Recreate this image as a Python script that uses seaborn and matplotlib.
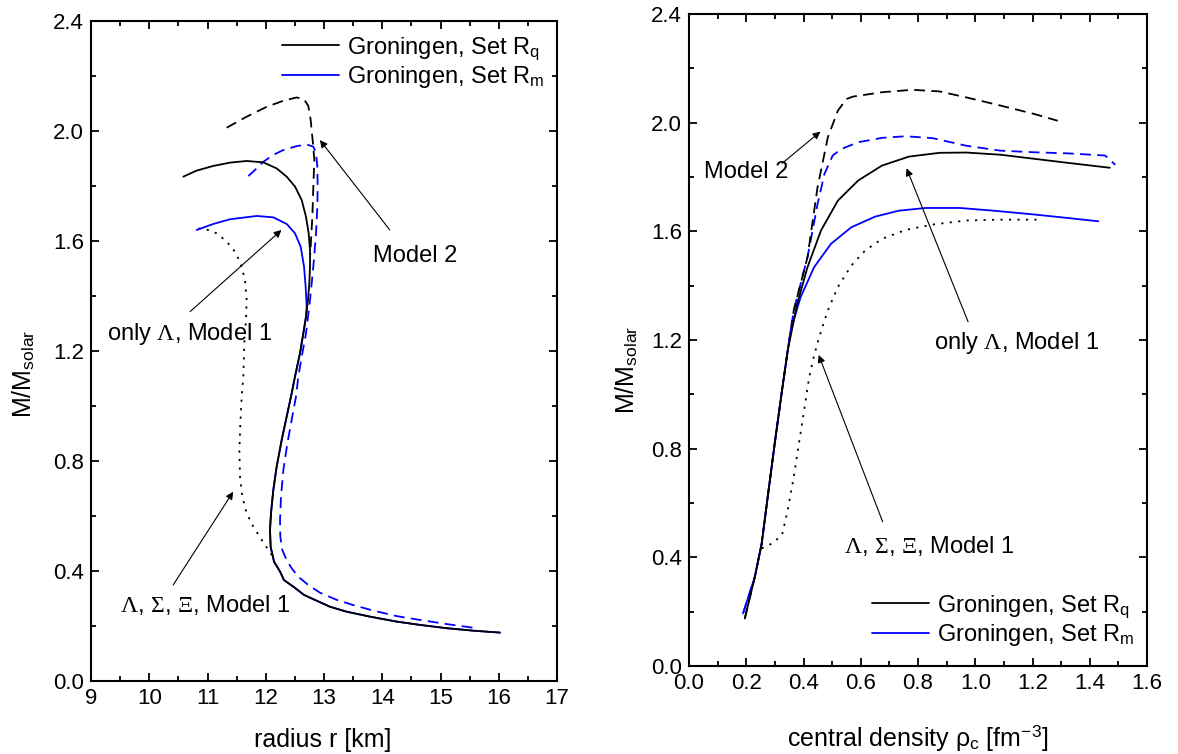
import numpy as np
import pandas as pd
import matplotlib
matplotlib.use("Agg")
import matplotlib.pyplot as plt
from matplotlib.lines import Line2D
from matplotlib.ticker import MultipleLocator
import seaborn as sns

# ---------------- data ----------------
# Left panel: mass vs radius
rq_r = [10.585, 10.814, 11.100, 11.386, 11.672, 11.958, 12.187, 12.359, 12.502, 12.617, 12.691,
        12.737, 12.760, 12.760, 12.748, 12.725, 12.691, 12.645, 12.588, 12.502, 12.445, 12.359,
        12.273, 12.187, 12.130, 12.090, 12.073, 12.084, 12.142, 12.245, 12.313, 12.474, 12.657,
        12.874, 13.103, 13.389, 13.790, 14.248, 14.648, 15.106, 15.564, 16.021]
rq_M = [1.834, 1.856, 1.873, 1.885, 1.891, 1.886, 1.864, 1.834, 1.798, 1.749, 1.688,
        1.628, 1.567, 1.507, 1.446, 1.385, 1.325, 1.264, 1.192, 1.107, 1.046, 0.961,
        0.876, 0.779, 0.695, 0.610, 0.549, 0.488, 0.434, 0.398, 0.367, 0.343, 0.313,
        0.292, 0.270, 0.252, 0.234, 0.216, 0.204, 0.192, 0.183, 0.176]

rm_r = [10.814, 11.100, 11.386, 11.844, 12.130, 12.359, 12.502, 12.600, 12.657, 12.685, 12.703,
        12.691, 12.645, 12.588, 12.502, 12.445, 12.359, 12.273, 12.187, 12.130, 12.090, 12.073,
        12.084, 12.142, 12.245, 12.313, 12.474, 12.657, 12.874, 13.103, 13.389, 13.790, 14.248,
        14.648, 15.106, 15.564, 16.021]
rm_M = [1.640, 1.662, 1.679, 1.691, 1.686, 1.662, 1.628, 1.579, 1.507, 1.434, 1.361,
        1.325, 1.264, 1.192, 1.107, 1.046, 0.961, 0.876, 0.779, 0.695, 0.610, 0.549,
        0.488, 0.434, 0.398, 0.367, 0.343, 0.313, 0.292, 0.270, 0.252, 0.234, 0.216,
        0.204, 0.192, 0.183, 0.176]

rq2_r = [11.329, 11.672, 12.016, 12.302, 12.531, 12.657, 12.731, 12.771, 12.805, 12.834, 12.817,
         12.800, 12.777, 12.765]
rq2_M = [2.012, 2.052, 2.088, 2.110, 2.122, 2.115, 2.091, 2.040, 1.967, 1.895, 1.798,
         1.688, 1.604, 1.550]

rm2_r = [11.701, 11.844, 11.958, 12.130, 12.302, 12.531, 12.703, 12.817, 12.863, 12.886, 12.891,
         12.886, 12.863, 12.817, 12.760, 12.691, 12.617, 12.559, 12.519, 12.445, 12.371, 12.302,
         12.262, 12.245, 12.250, 12.285, 12.359, 12.445, 12.559, 12.731, 12.931, 13.218, 13.504,
         13.847, 14.248, 14.648, 15.106, 15.621]
rm2_M = [1.836, 1.864, 1.888, 1.913, 1.931, 1.945, 1.951, 1.943, 1.919, 1.870, 1.798,
         1.725, 1.628, 1.507, 1.385, 1.264, 1.179, 1.107, 1.034, 0.949, 0.864, 0.767,
         0.670, 0.585, 0.525, 0.476, 0.440, 0.410, 0.379, 0.349, 0.321, 0.295, 0.276,
         0.256, 0.236, 0.222, 0.207, 0.192]

hyp_r = [10.843, 11.014, 11.157, 11.329, 11.472, 11.569, 11.644, 11.672, 11.661, 11.632, 11.615,
         11.587, 11.564, 11.547, 11.558, 11.598, 11.672, 11.787, 11.930, 12.102]
hyp_M = [1.646, 1.640, 1.628, 1.598, 1.561, 1.519, 1.458, 1.385, 1.313, 1.228, 1.107,
         1.034, 0.937, 0.840, 0.743, 0.670, 0.610, 0.561, 0.513, 0.458]

# Right panel: mass vs central density
rq_rho = [0.195, 0.230, 0.254, 0.278, 0.301, 0.325, 0.345, 0.378, 0.414, 0.461, 0.520, 0.591,
          0.674, 0.768, 0.875, 0.969, 1.088, 1.206, 1.324, 1.470]
rq_Mc = [0.175, 0.328, 0.451, 0.647, 0.831, 1.015, 1.162, 1.333, 1.468, 1.603, 1.713, 1.787,
         1.842, 1.875, 1.889, 1.890, 1.882, 1.867, 1.852, 1.834]

rm_rho = [0.189, 0.230, 0.254, 0.278, 0.301, 0.325, 0.355, 0.390, 0.437, 0.496, 0.567, 0.650,
          0.733, 0.827, 0.946, 1.064, 1.206, 1.324, 1.430]
rm_Mc = [0.194, 0.328, 0.451, 0.647, 0.831, 1.015, 1.235, 1.358, 1.468, 1.554, 1.615, 1.654,
         1.676, 1.686, 1.686, 1.676, 1.662, 1.649, 1.637]

rq2_rho = [0.195, 0.230, 0.254, 0.278, 0.301, 0.325, 0.345, 0.366, 0.414, 0.449, 0.485, 0.520,
           0.550, 0.573, 0.674, 0.780, 0.875, 0.969, 1.088, 1.206, 1.288]
rq2_Mc = [0.175, 0.328, 0.451, 0.647, 0.831, 1.015, 1.162, 1.309, 1.505, 1.762, 1.946, 2.044,
          2.087, 2.096, 2.112, 2.121, 2.115, 2.093, 2.063, 2.032, 2.007]

rm2_rho = [0.189, 0.230, 0.254, 0.278, 0.301, 0.325, 0.345, 0.366, 0.414, 0.449, 0.473, 0.502,
           0.532, 0.591, 0.674, 0.756, 0.851, 0.969, 1.088, 1.206, 1.324, 1.454, 1.489]
rm2_Mc = [0.194, 0.328, 0.451, 0.647, 0.831, 1.015, 1.162, 1.309, 1.505, 1.700, 1.811, 1.879,
          1.903, 1.928, 1.944, 1.950, 1.943, 1.915, 1.897, 1.891, 1.887, 1.879, 1.845]

hyp_rho = [0.254, 0.290, 0.325, 0.345, 0.366, 0.384, 0.402, 0.420, 0.437, 0.455, 0.485, 0.520,
           0.567, 0.615, 0.674, 0.756, 0.851, 0.969, 1.088, 1.223]
hyp_Mc = [0.433, 0.451, 0.482, 0.574, 0.696, 0.819, 0.941, 1.064, 1.143, 1.211, 1.309, 1.395,
          1.474, 1.529, 1.572, 1.605, 1.625, 1.640, 1.643, 1.643]

legend_labels = [r"Groningen, Set R$_\mathregular{q}$", r"Groningen, Set R$_\mathregular{m}$"]
x_ticks_left = [9, 10, 11, 12, 13, 14, 15, 16, 17]
x_ticks_right = [0.0, 0.2, 0.4, 0.6, 0.8, 1.0, 1.2, 1.4, 1.6]
y_ticks = [0.0, 0.4, 0.8, 1.2, 1.6, 2.0, 2.4]

# ---------------- style ----------------
sns.set_theme(style="ticks")
plt.rcParams["font.family"] = ["Liberation Sans", "DejaVu Sans"]
plt.rcParams["mathtext.fontset"] = "custom"
plt.rcParams["mathtext.rm"] = "Liberation Serif"
plt.rcParams["mathtext.it"] = "Liberation Serif:italic"
plt.rcParams["mathtext.bf"] = "Liberation Serif:bold"
plt.rcParams["mathtext.sf"] = "Liberation Sans"
plt.rcParams["text.color"] = "black"
plt.rcParams["axes.labelcolor"] = "black"
plt.rcParams["xtick.color"] = "black"
plt.rcParams["ytick.color"] = "black"
plt.rcParams["axes.linewidth"] = 1.5

BLUE = "#0000ff"
DASH = (0, (6, 3.5))
DOT = (0, (1.2, 3.5))
LW = 1.3
FS_TICK = 16
FS_LAB = 18
FS_TXT = 17

fig = plt.figure(figsize=(11.78, 7.54), dpi=100)
axL = fig.add_axes([91 / 1178, 1 - 681 / 754, 466 / 1178, 660 / 754])
axR = fig.add_axes([689 / 1178, 1 - 666 / 754, 458 / 1178, 652 / 754])


def draw(ax, x, y, color, ls):
    df = pd.DataFrame({"x": x, "y": y})
    sns.lineplot(data=df, x="x", y="y", sort=False, estimator=None, ax=ax,
                 color=color, linestyle=ls, linewidth=LW)


# left panel
draw(axL, rq2_r, rq2_M, "black", DASH)
draw(axL, rm2_r, rm2_M, BLUE, DASH)
draw(axL, hyp_r, hyp_M, "black", DOT)
draw(axL, rm_r, rm_M, BLUE, "-")
draw(axL, rq_r, rq_M, "black", "-")

# right panel
draw(axR, rm2_rho, rm2_Mc, BLUE, DASH)
draw(axR, rq2_rho, rq2_Mc, "black", DASH)
draw(axR, hyp_rho, hyp_Mc, "black", DOT)
draw(axR, rm_rho, rm_Mc, BLUE, "-")
draw(axR, rq_rho, rq_Mc, "black", "-")

for ax, xt, xminor in [(axL, x_ticks_left, 0.5), (axR, x_ticks_right, 0.1)]:
    ax.set_xlim(xt[0], xt[-1])
    ax.set_ylim(0, 2.4)
    ax.set_xticks(xt)
    ax.set_yticks(y_ticks)
    ax.xaxis.set_minor_locator(MultipleLocator(xminor))
    ax.yaxis.set_minor_locator(MultipleLocator(0.2))
    ax.tick_params(which="both", direction="in", top=True, right=True, width=1.3,
                   colors="black", labelsize=FS_TICK, pad=5)
    ax.tick_params(which="major", length=6)
    ax.tick_params(which="minor", length=3.5)
    for s in ax.spines.values():
        s.set_color("black")
        s.set_linewidth(1.5)

axL.set_xticklabels([f"{v:d}" for v in x_ticks_left])
axR.set_xticklabels([f"{v:.1f}" for v in x_ticks_right])
for ax in (axL, axR):
    ax.set_yticklabels([f"{v:.1f}" for v in y_ticks])

axL.set_xlabel("radius r [km]", fontsize=FS_LAB)
axR.set_xlabel(r"central density ρ$_\mathregular{c}$ [fm$^\mathregular{-3}$]", fontsize=FS_LAB)
for ax in (axL, axR):
    ax.set_ylabel(r"M/M$_\mathregular{solar}$", fontsize=FS_LAB)
axL.xaxis.set_label_coords(0.498, -0.071)
axR.xaxis.set_label_coords(0.50, -0.087)
axL.yaxis.set_label_coords(-0.116, 0.465)
axR.yaxis.set_label_coords(-0.107, 0.454)

# legends
handles = [Line2D([], [], color="black", lw=LW), Line2D([], [], color=BLUE, lw=LW)]
axL.legend(handles, legend_labels, loc="upper left", bbox_to_anchor=(0.41, 0.979),
           frameon=False, fontsize=FS_TXT, handlelength=2.4, handletextpad=0.35,
           labelspacing=0.1, borderpad=0, borderaxespad=0)
axR.legend(handles, legend_labels, loc="upper left", bbox_to_anchor=(0.40, 0.112),
           frameon=False, fontsize=FS_TXT, handlelength=2.4, handletextpad=0.35,
           labelspacing=0.1, borderpad=0, borderaxespad=0)

# annotations
arw = dict(arrowstyle="-|>", color="black", lw=0.8, mutation_scale=11, shrinkA=0, shrinkB=0)


def note(ax, text, tx, ty, tail, head):
    ax.text(tx, ty, text, fontsize=FS_TXT, ha="left", va="center", color="black")
    ax.annotate("", xy=head, xytext=tail, arrowprops=arw)


note(axL, "Model 2", 13.84, 1.545, (14.13, 1.64), (12.93, 1.967))
note(axL, r"only $\Lambda$, Model 1", 9.275, 1.262, (10.70, 1.343), (12.27, 1.64))
note(axL, r"$\Lambda$, $\Sigma$, $\Xi$, Model 1", 9.50, 0.276, (10.41, 0.349), (11.44, 0.688))

note(axR, "Model 2", 0.054, 1.818, (0.325, 1.850), (0.459, 1.967))
note(axR, r"only $\Lambda$, Model 1", 0.856, 1.189, (0.975, 1.267), (0.760, 1.832))
note(axR, r"$\Lambda$, $\Sigma$, $\Xi$, Model 1", 0.540, 0.442, (0.6765, 0.531), (0.453, 1.145))

fig.savefig("out.png", dpi=100, facecolor="white")
